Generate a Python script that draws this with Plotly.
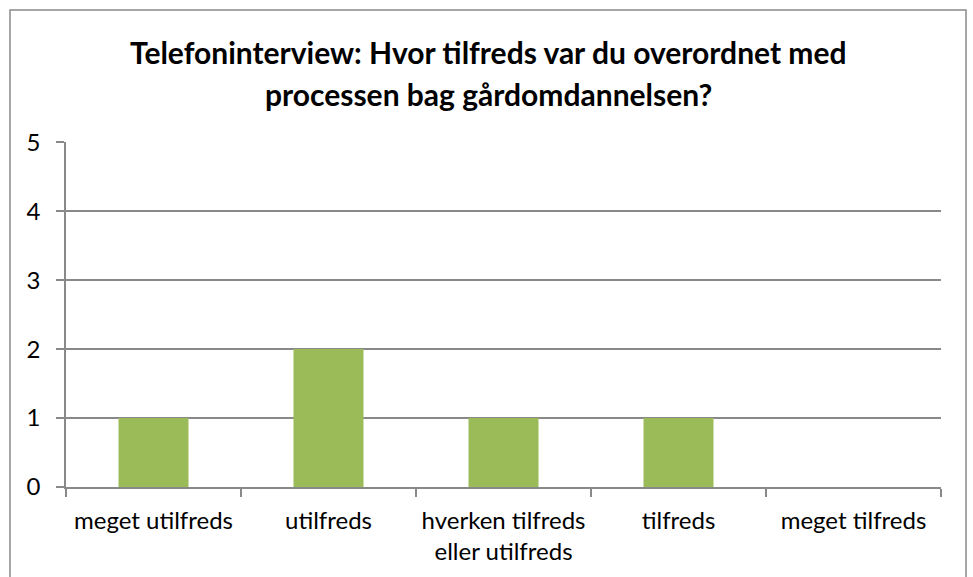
import plotly.graph_objects as go

# data
categories = ["meget utilfreds", "utilfreds", "hverken tilfreds<br>eller utilfreds", "tilfreds", "meget tilfreds"]
counts = [1, 2, 1, 1, 0]
y_ticks = [0, 1, 2, 3, 4, 5]

title_lines = ["Telefoninterview: Hvor tilfreds var du overordnet med",
               "processen bag gårdomdannelsen?"]

W, H = 973, 577
L, R, T, B = 66, 32, 142, 90
pw, ph = W - L - R, H - T - B


def py(p):
    # pixel row from the top -> paper y
    return (H - B - p) / ph


def px(p):
    return (p - L) / pw


fig = go.Figure()
fig.add_trace(go.Bar(x=categories, y=counts, marker_color="#9BBB59", marker_line_width=0))

grey = "#898989"
fig.update_layout(
    width=W, height=H,
    margin=dict(l=L, r=R, t=T, b=B),
    paper_bgcolor="white", plot_bgcolor="white",
    font=dict(family="Lato, Open Sans, sans-serif", size=24, color="black"),
    bargap=0.6,
    showlegend=False,
    xaxis=dict(showline=True, linecolor=grey, linewidth=1.5, ticks="outside", tickson="boundaries",
               ticklen=8, tickcolor=grey, tickwidth=1.5, showgrid=False, fixedrange=True,
               ticklabelstandoff=11),
    yaxis=dict(range=[0, 5.004], tickvals=y_ticks, showline=True, linecolor=grey, linewidth=1.5,
               ticks="outside", ticklen=8, tickcolor=grey, tickwidth=1.5, showgrid=True,
               gridcolor=grey, gridwidth=1.5, zeroline=False, ticklabelstandoff=11),
)

# title as two centred lines
for txt, yc in zip(title_lines, [52, 94]):
    fig.add_annotation(text=txt, xref="paper", yref="paper", x=px(488), y=py(yc),
                       xanchor="center", yanchor="middle", showarrow=False,
                       font=dict(size=30, color="black", weight="bold"))

# outer chart border
fig.add_shape(type="rect", xref="paper", yref="paper",
              x0=px(10), x1=px(966), y0=py(600), y1=py(10),
              line=dict(color="#898989", width=1.5), fillcolor="rgba(0,0,0,0)")

fig.write_html("out.html", config={"displayModeBar": False},
               post_script="document.body.style.margin='0';")
